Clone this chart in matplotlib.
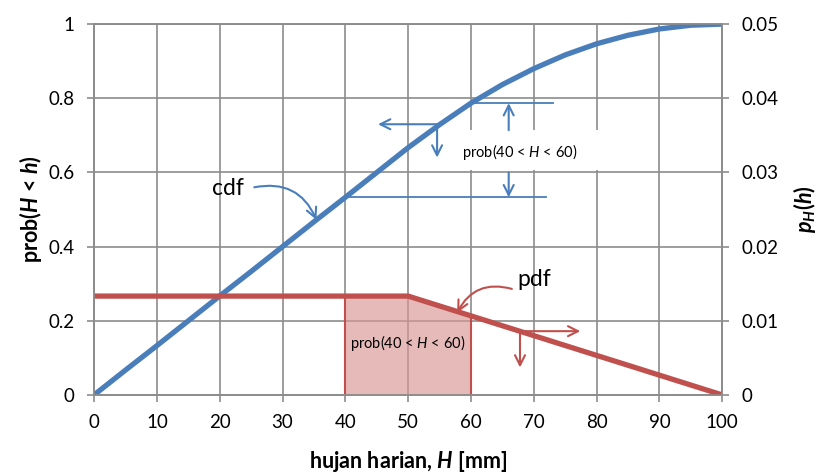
import numpy as np
import matplotlib
matplotlib.use("Agg")
import matplotlib.pyplot as plt
import matplotlib.ticker as ticker
from matplotlib.patches import Rectangle

plt.rcParams['font.family'] = ['Lato', 'DejaVu Sans']
plt.rcParams['mathtext.fontset'] = 'custom'
plt.rcParams['mathtext.rm'] = 'Lato'
plt.rcParams['mathtext.it'] = 'Lato:italic'
plt.rcParams['mathtext.bf'] = 'Lato:bold'
plt.rcParams['mathtext.bfit'] = 'Lato:bold:italic'

# data
h = [0, 5, 10, 15, 20, 25, 30, 35, 40, 45, 50, 55, 60, 65, 70, 75, 80, 85, 90, 95, 100]
cdf = [0, 0.067, 0.133, 0.2, 0.267, 0.333, 0.4, 0.467, 0.533, 0.6, 0.667,
       0.729, 0.787, 0.837, 0.88, 0.917, 0.947, 0.97, 0.987, 0.997, 1.0]
pdf_h = [0, 50, 100]
pdf = [0.01333, 0.01333, 0.0]
band_h = [40, 50, 60]
band_p = [0.01333, 0.01333, 0.01067]

xticks = [0, 10, 20, 30, 40, 50, 60, 70, 80, 90, 100]
yticks_left = [0, 0.2, 0.4, 0.6, 0.8, 1.0]
yticks_right = [0, 0.01, 0.02, 0.03, 0.04, 0.05]

BLUE = '#4a7ebb'
RED = '#c0504d'
GRID = '#8c8c8c'

fig = plt.figure(figsize=(8.18, 4.73), dpi=100)
ax = fig.add_axes([0.115, 0.165, 0.768, 0.784])
ax2 = ax.twinx()

ax.set_xlim(0, 100)
ax.set_ylim(0, 1)
ax2.set_ylim(0, 0.05)
ax.set_xticks(xticks)
ax.set_yticks(yticks_left)
ax2.set_yticks(yticks_right)
fmt = ticker.FuncFormatter(lambda v, p: '%g' % round(v, 4))
ax.yaxis.set_major_formatter(fmt)
ax2.yaxis.set_major_formatter(fmt)
ax.grid(True, color=GRID, lw=1.2)
for a in (ax, ax2):
    for s in a.spines.values():
        s.set_color(GRID)
        s.set_linewidth(1.2)
    a.tick_params(colors=GRID, labelcolor='black', labelsize=13.5, length=5, width=1.2, pad=9)

# pdf and shaded band (right axis)
ax2.fill_between(band_h, 0, band_p, color='#d99694', alpha=0.65, lw=0, zorder=1)
ax2.plot([band_h[0], band_h[0]], [0, band_p[0]], color=RED, lw=1.5)
ax2.plot([band_h[-1], band_h[-1]], [0, band_p[-1]], color=RED, lw=1.5)
ax2.plot(pdf_h, pdf, color=RED, lw=3.8, solid_capstyle='butt')
ax2.text(50, 0.007, r'prob(40 < $\mathit{H}$ < 60)', fontsize=10.5, ha='center', va='center')

# cdf (left axis)
ax.plot(h, cdf, color=BLUE, lw=3.8, zorder=3)

# blue annotations
ax.add_patch(Rectangle((58.5, 0.607), 23, 0.107, facecolor='white', edgecolor='none', zorder=2))
ax.plot([60, 73], [0.787, 0.787], color=BLUE, lw=1.3)
ax.plot([40, 72], [0.533, 0.533], color=BLUE, lw=1.3)
ax.text(67.7, 0.655, r'prob(40 < $\mathit{H}$ < 60)', fontsize=10.5, ha='center', va='center', zorder=3)
arr_b = dict(arrowstyle='->', color=BLUE, lw=1.5, mutation_scale=18, shrinkA=0, shrinkB=0)
ax.annotate('', xy=(66, 0.787), xytext=(66, 0.714), arrowprops=arr_b, zorder=4)
ax.annotate('', xy=(66, 0.533), xytext=(66, 0.6), arrowprops=arr_b, zorder=4)
ax.annotate('', xy=(45.2, 0.73), xytext=(54.6, 0.73), arrowprops=arr_b)
ax.annotate('', xy=(54.6, 0.64), xytext=(54.6, 0.73), arrowprops=arr_b)
ax.text(21.3, 0.558, 'cdf', fontsize=16.5, ha='center', va='center')
ax.annotate('', xy=(35.4, 0.472), xytext=(25.5, 0.56),
            arrowprops=dict(arr_b, connectionstyle='arc3,rad=-0.4'))

# red annotations
arr_r = dict(arrowstyle='->', color=RED, lw=1.5, mutation_scale=18, shrinkA=0, shrinkB=0)
ax2.text(67.4, 0.0155, 'pdf', fontsize=16.5, ha='left', va='center')
ax2.annotate('', xy=(57.8, 0.0111), xytext=(66.5, 0.0143),
             arrowprops=dict(arr_r, connectionstyle='arc3,rad=0.4'))
ax2.annotate('', xy=(77.4, 0.0086), xytext=(67.8, 0.0086), arrowprops=arr_r)
ax2.annotate('', xy=(67.8, 0.0037), xytext=(67.8, 0.0086), arrowprops=arr_r)

ax.set_xlabel(r'hujan harian, $\mathbfit{H}$ [mm]', fontsize=15.5, fontweight='bold', labelpad=13)
ax.set_ylabel(r'prob($\mathbfit{H}$ < $\mathbfit{h}$)', fontsize=15.5, fontweight='bold', labelpad=3)
ax2.set_ylabel(r'$\mathbfit{p}_{\mathbfit{H}}$($\mathbfit{h}$)', fontsize=15.5, fontweight='bold', labelpad=9)

fig.savefig('out.png', dpi=100)
